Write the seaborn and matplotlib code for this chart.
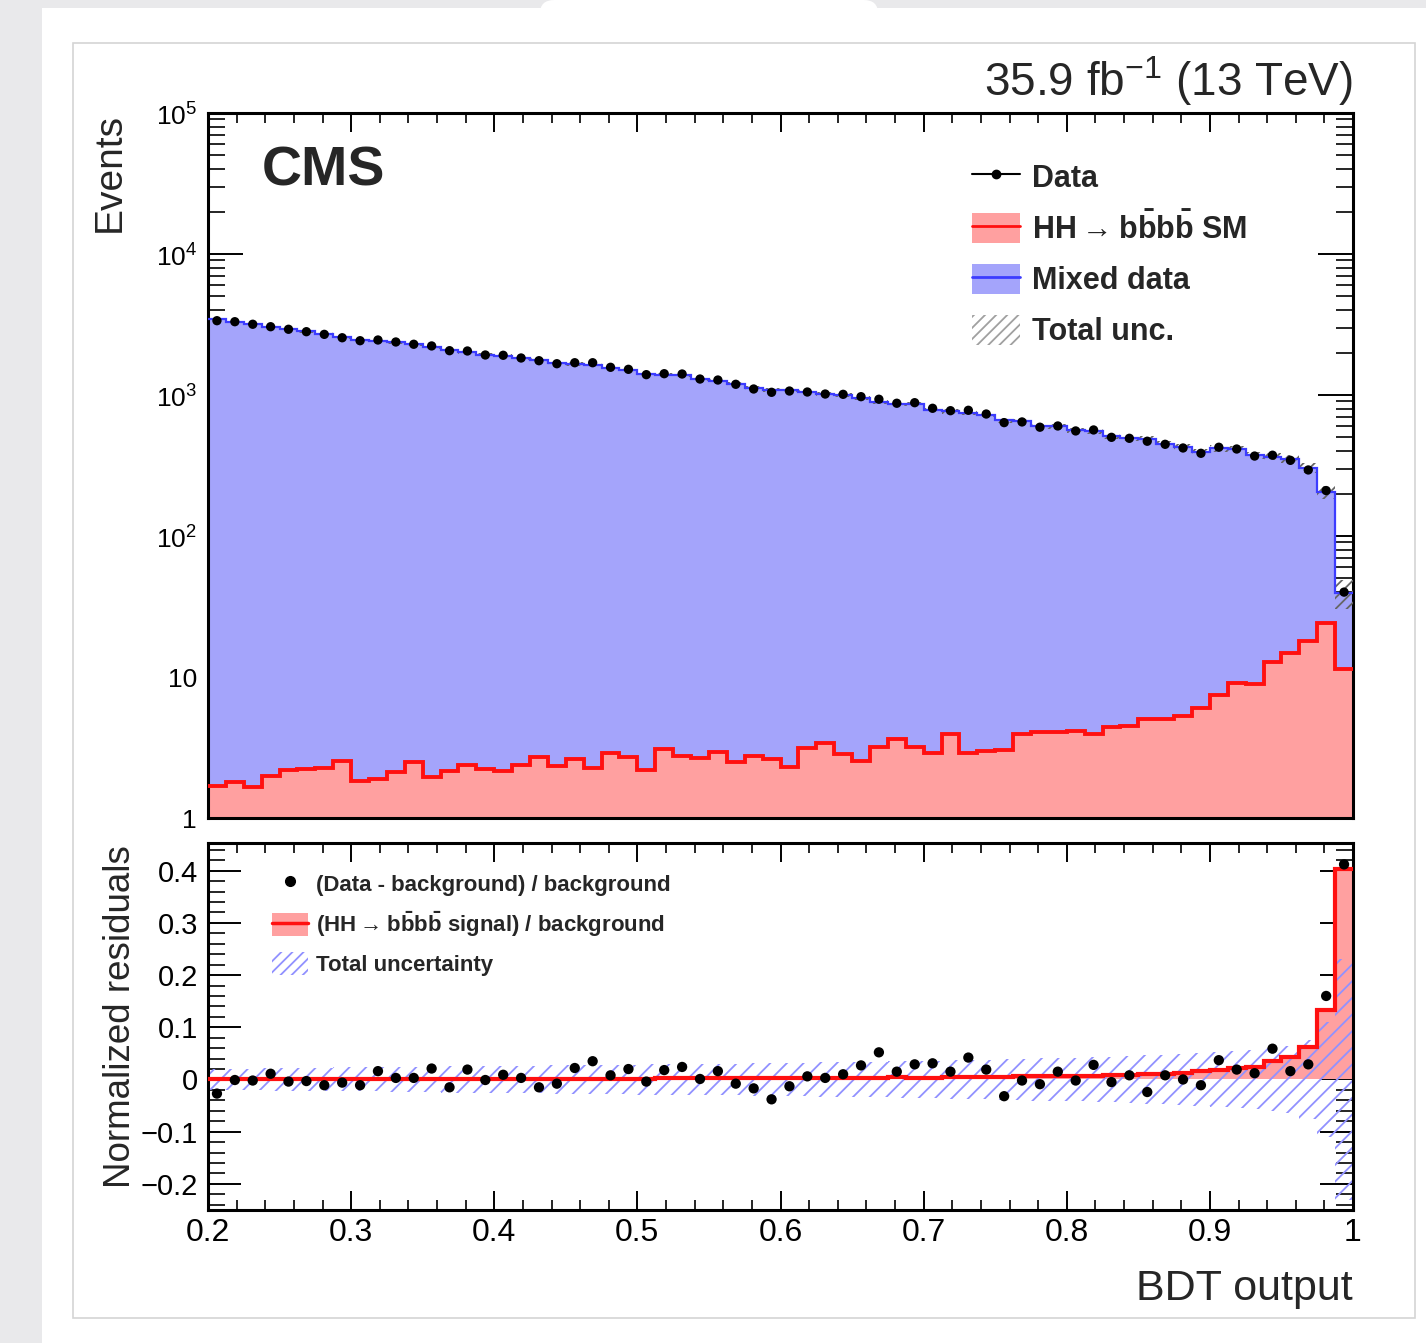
import numpy as np
import matplotlib
matplotlib.use('Agg')
import matplotlib.pyplot as plt
import seaborn as sns
from matplotlib.patches import Patch, Rectangle, FancyBboxPatch
from matplotlib.lines import Line2D
from matplotlib.ticker import FixedLocator, FixedFormatter, LogLocator, NullFormatter, MultipleLocator

# BDT output binning: 64 bins between 0.2 and 1
edges = np.linspace(0.2, 1.0, 65)
centers = 0.5 * (edges[:-1] + edges[1:])

# Observed events per bin
data_counts = [3365, 3310, 3175, 3050, 2925, 2812, 2692, 2547, 2427, 2455,
               2377, 2290, 2228, 2062, 2052, 1922, 1913, 1830, 1751, 1667,
               1694, 1694, 1572, 1521, 1394, 1416, 1409, 1298, 1277, 1191,
               1103, 1045, 1067, 1050, 1016, 1011, 973, 933, 874, 882,
               805, 774, 779, 733, 637, 644, 591, 603, 556, 565,
               501, 493, 470, 447, 421, 386, 426, 414, 369, 374,
               344, 294, 210, 40]

# Mixed-data background model per bin
mixed_bkg = [3458, 3313, 3181, 3017, 2937, 2820, 2722, 2562, 2454, 2416,
             2370, 2283, 2182, 2093, 2014, 1924, 1896, 1825, 1778, 1680,
             1658, 1637, 1560, 1491, 1400, 1391, 1376, 1297, 1257, 1201,
             1122, 1086, 1081, 1044, 1013, 1001, 947, 887, 861, 857,
             781, 763, 748, 719, 658, 645, 596, 594, 557, 550,
             504, 489, 482, 443, 421, 390, 411, 406, 365, 353,
             339, 286, 181, 28.3]

# SM HH -> bbbb signal per bin
hh_signal = [1.69, 1.79, 1.67, 2.00, 2.19, 2.21, 2.25, 2.54, 1.83, 1.89,
             2.11, 2.51, 1.94, 2.16, 2.38, 2.23, 2.16, 2.38, 2.72, 2.34,
             2.61, 2.25, 2.88, 2.69, 2.19, 3.07, 2.75, 2.68, 2.95, 2.51,
             2.75, 2.61, 2.29, 3.15, 3.39, 2.83, 2.55, 3.20, 3.63, 3.17,
             2.88, 3.92, 2.90, 3.00, 3.04, 3.92, 4.05, 4.07, 4.14, 3.94,
             4.44, 4.52, 5.04, 5.04, 5.29, 6.00, 7.45, 9.02, 8.92, 12.8,
             14.7, 18.0, 24.0, 11.4]

# (Data - background) / background
residuals = [-0.027, -0.001, -0.002, 0.011, -0.004, -0.003, -0.011, -0.006, -0.011, 0.016,
             0.003, 0.003, 0.021, -0.015, 0.019, -0.001, 0.009, 0.003, -0.015, -0.008,
             0.022, 0.035, 0.008, 0.020, -0.004, 0.018, 0.024, 0.001, 0.016, -0.008,
             -0.017, -0.038, -0.013, 0.006, 0.003, 0.010, 0.027, 0.052, 0.015, 0.029,
             0.031, 0.015, 0.042, 0.019, -0.032, -0.002, -0.009, 0.015, -0.002, 0.028,
             -0.005, 0.008, -0.024, 0.008, 0.000, -0.011, 0.037, 0.019, 0.012, 0.059,
             0.016, 0.029, 0.160, 0.412]

# Relative total uncertainty (half width of the band)
unc_rel = [0.021, 0.021, 0.021, 0.022, 0.022, 0.022, 0.022, 0.023, 0.023, 0.023,
           0.024, 0.024, 0.024, 0.025, 0.025, 0.025, 0.026, 0.026, 0.026, 0.027,
           0.027, 0.028, 0.028, 0.028, 0.029, 0.029, 0.029, 0.030, 0.030, 0.030,
           0.031, 0.031, 0.032, 0.032, 0.033, 0.033, 0.034, 0.034, 0.035, 0.035,
           0.036, 0.037, 0.038, 0.038, 0.039, 0.040, 0.041, 0.041, 0.042, 0.043,
           0.044, 0.045, 0.046, 0.047, 0.048, 0.050, 0.052, 0.054, 0.057, 0.060,
           0.065, 0.075, 0.110, 0.230]

x_ticks = [0.2, 0.3, 0.4, 0.5, 0.6, 0.7, 0.8, 0.9, 1.0]
x_tick_labels = ['0.2', '0.3', '0.4', '0.5', '0.6', '0.7', '0.8', '0.9', '1']
y_ticks_top = [1, 10, 100, 1000, 1e4, 1e5]
y_tick_labels_top = ['1', '10', r'$10^{2}$', r'$10^{3}$', r'$10^{4}$', r'$10^{5}$']
y_ticks_bot = [-0.2, -0.1, 0.0, 0.1, 0.2, 0.3, 0.4]
y_tick_labels_bot = ['\u22120.2', '\u22120.1', '0', '0.1', '0.2', '0.3', '0.4']

sig = np.array(hh_signal)
bkg = np.array(mixed_bkg)
total = bkg + sig   # mixed data is stacked on top of the signal
unc = np.array(unc_rel)

BLUE_FILL = '#a4a4fb'
BLUE_LINE = '#3c3cff'
RED_FILL = '#ffa0a0'
RED_LINE = '#ff1010'
HATCH_BLUE = '#9191ff'

sns.set_style('ticks')
plt.rcParams['font.family'] = ['Liberation Sans', 'DejaVu Sans']
plt.rcParams['mathtext.fontset'] = 'custom'
plt.rcParams['mathtext.rm'] = 'Liberation Sans'
plt.rcParams['mathtext.bf'] = 'Liberation Sans:bold'
plt.rcParams['hatch.linewidth'] = 1.3

W, H = 1426, 1343
fig = plt.figure(figsize=(W / 100, H / 100), dpi=100, facecolor='#e9e9eb')

# Screenshot frame around the plot
fig.patches.append(Rectangle((42 / W, 0), 1, 1 - 8 / H, transform=fig.transFigure,
                             facecolor='white', edgecolor='none', zorder=-10))
fig.patches.append(Rectangle((73 / W, 1 - 1318 / H), (1415 - 73) / W, (1318 - 43) / H,
                             transform=fig.transFigure, facecolor='white',
                             edgecolor='#d4d4d4', lw=1.2, zorder=-9))
fig.patches.append(FancyBboxPatch((540 / W, 1 - 28 / H), (878 - 540) / W, 28 / H,
                                  boxstyle='round,pad=0,rounding_size=0.01',
                                  transform=fig.transFigure, facecolor='white',
                                  edgecolor='none', zorder=-8))

ax = fig.add_axes([208 / W, 1 - 818 / H, 1145 / W, 705 / H])
axr = fig.add_axes([208 / W, 1 - 1210 / H, 1145 / W, 367 / H])

# ---- upper panel: stacked histograms ----
ax.set_yscale('log')
ax.stairs(total, edges, baseline=0.1, fill=True, color=BLUE_FILL, lw=0, zorder=1)
ax.stairs(sig, edges, baseline=0.1, fill=True, color=RED_FILL, lw=0, zorder=2)
ax.stairs(total * (1 + unc), edges, baseline=total * (1 - unc), fill=True,
          facecolor='none', edgecolor='#666666', hatch='///', lw=0, zorder=3)
ax.stairs(total, edges, baseline=None, color=BLUE_LINE, lw=1.6, zorder=4)
ax.stairs(sig, edges, baseline=None, color=RED_LINE, lw=2.8, zorder=5)
sns.scatterplot(x=centers, y=data_counts, ax=ax, color='black', s=45,
                edgecolor='none', zorder=6, legend=False)

ax.set_xlim(0.2, 1.0)
ax.set_ylim(1, 1e5)
ax.yaxis.set_major_locator(FixedLocator(y_ticks_top))
ax.yaxis.set_major_formatter(FixedFormatter(y_tick_labels_top))
ax.yaxis.set_minor_locator(LogLocator(base=10, subs=np.arange(2, 10), numticks=20))
ax.yaxis.set_minor_formatter(NullFormatter())
ax.xaxis.set_major_locator(FixedLocator(x_ticks))
ax.xaxis.set_minor_locator(MultipleLocator(0.02))
ax.tick_params(axis='x', labelbottom=False)
ax.tick_params(axis='x', which='major', length=14, width=1.4)
ax.tick_params(axis='x', which='minor', length=7, width=1.2)
ax.tick_params(axis='y', which='major', length=25, width=1.4, labelsize=19, pad=8)
ax.tick_params(axis='y', which='minor', length=12, width=1.2)
ax.tick_params(which='both', direction='in', top=True, right=True, colors='black')

# ---- lower panel: normalized residuals ----
ratio = sig / bkg
axr.stairs(ratio, edges, baseline=0, fill=True, color=RED_FILL, lw=0, zorder=1)
axr.stairs(unc, edges, baseline=-unc, fill=True, facecolor='none',
           edgecolor=HATCH_BLUE, hatch='//', lw=0, zorder=2)
axr.stairs(ratio, edges, baseline=None, color=RED_LINE, lw=3, zorder=3)
sns.scatterplot(x=centers, y=residuals, ax=axr, color='black', s=55,
                edgecolor='none', zorder=4, legend=False)

axr.set_xlim(0.2, 1.0)
axr.set_ylim(-0.25, 0.453)
axr.xaxis.set_major_locator(FixedLocator(x_ticks))
axr.xaxis.set_major_formatter(FixedFormatter(x_tick_labels))
axr.xaxis.set_minor_locator(MultipleLocator(0.02))
axr.yaxis.set_major_locator(FixedLocator(y_ticks_bot))
axr.yaxis.set_major_formatter(FixedFormatter(y_tick_labels_bot))
axr.yaxis.set_minor_locator(MultipleLocator(0.02))
axr.tick_params(axis='x', which='major', length=14, width=1.4, labelsize=23, pad=6)
axr.tick_params(axis='x', which='minor', length=7, width=1.2)
axr.tick_params(axis='y', which='major', length=24, width=1.4, labelsize=21, pad=7)
axr.tick_params(axis='y', which='minor', length=12, width=1.2)
axr.tick_params(which='both', direction='in', top=True, right=True, colors='black')

for a in (ax, axr):
    a.set_xlabel('')
    a.set_ylabel('')
    for sp in a.spines.values():
        sp.set_visible(True)
        sp.set_linewidth(2.2)
        sp.set_color('black')

# ---- texts ----
fig.text(262 / W, 1 - 185 / H, 'CMS', fontsize=40, fontweight='bold', ha='left', va='baseline')
fig.text(1353 / W, 1 - 96 / H, r'35.9 fb$^{\mathregular{-1}}$ (13 TeV)', fontsize=33,
         ha='right', va='baseline')
fig.text(1353 / W, 1 - 1300 / H, 'BDT output', fontsize=31, ha='right', va='baseline')
fig.text(110 / W, 1 - 113 / H, 'Events', fontsize=28, rotation=90, ha='center', va='top')
fig.text(120 / W, 1 - 845 / H, 'Normalized residuals', fontsize=26.5, rotation=90,
         ha='center', va='top')

# ---- legends ----
top_handles = [
    Line2D([], [], color='black', lw=1.5, marker='o', markersize=6),
    (Patch(facecolor=RED_FILL, edgecolor='none'), Line2D([], [], color=RED_LINE, lw=2)),
    (Patch(facecolor=BLUE_FILL, edgecolor='none'), Line2D([], [], color=BLUE_LINE, lw=2)),
    Patch(facecolor='none', edgecolor='#a0a0a0', hatch='///', lw=0),
]
top_labels = ['Data', r'HH$\rightarrow$b$\mathbf{\bar{b}}$b$\mathbf{\bar{b}}$ SM',
              'Mixed data', 'Total unc.']
ax.legend(top_handles, top_labels, loc='upper left', bbox_to_anchor=(972 / W, 1 - 161 / H),
          bbox_transform=fig.transFigure, frameon=False, borderpad=0, borderaxespad=0,
          handlelength=1.57, handleheight=1.15, handletextpad=0.4, labelspacing=0.6,
          prop={'weight': 'bold', 'size': 22})

bot_handles = [
    Line2D([], [], ls='none', color='black', marker='o', markersize=7),
    (Patch(facecolor=RED_FILL, edgecolor='none'), Line2D([], [], color=RED_LINE, lw=2.5)),
    Patch(facecolor='none', edgecolor=HATCH_BLUE, hatch='///', lw=0),
]
bot_labels = ['(Data - background) / background',
              r'(HH$\rightarrow$b$\mathbf{\bar{b}}$b$\mathbf{\bar{b}}$ signal) / background',
              'Total uncertainty']
axr.legend(bot_handles, bot_labels, loc='upper left', bbox_to_anchor=(272 / W, 1 - 872 / H),
           bbox_transform=fig.transFigure, frameon=False, borderpad=0, borderaxespad=0,
           handlelength=1.62, handleheight=1.2, handletextpad=0.36, labelspacing=0.6,
           prop={'weight': 'bold', 'size': 16})

fig.savefig('out.png', dpi=100, facecolor=fig.get_facecolor())
plt.close(fig)
